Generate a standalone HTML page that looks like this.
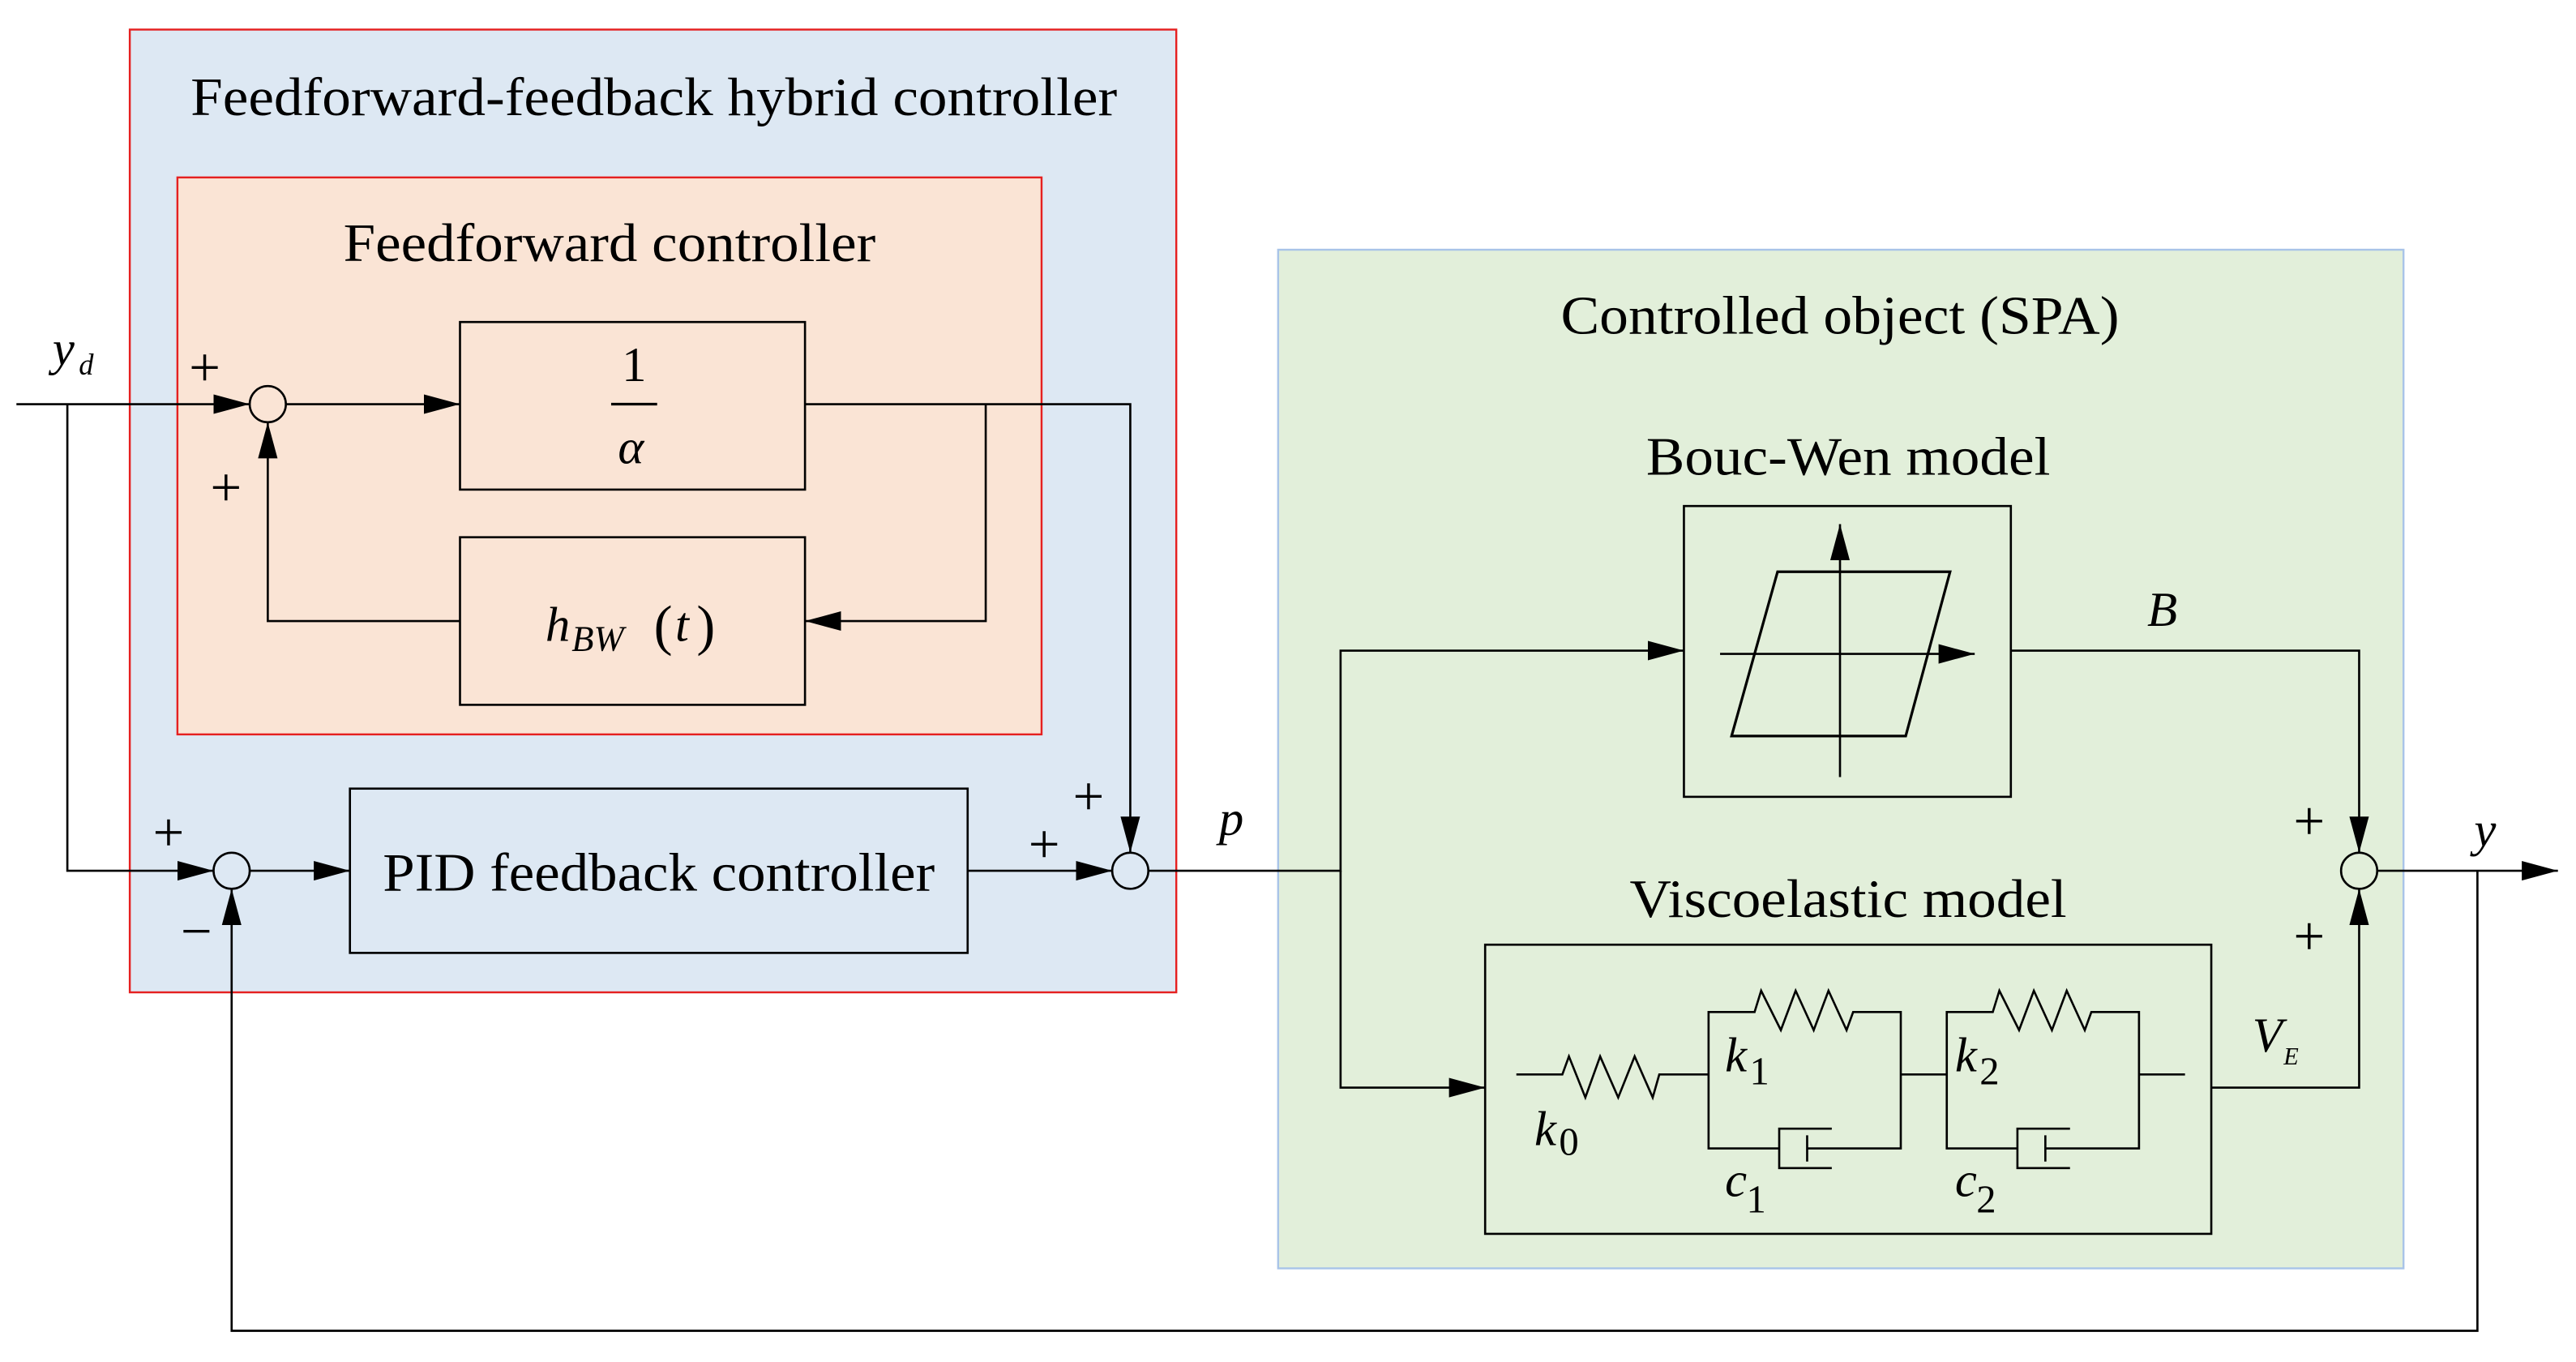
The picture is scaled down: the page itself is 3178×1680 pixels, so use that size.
<!DOCTYPE html>
<html><head><meta charset="utf-8"><style>html,body{margin:0;padding:0;background:#fff}svg{display:block}text{font-family:"Liberation Serif","DejaVu Serif",serif}</style></head><body>
<svg width="3178" height="1680" viewBox="0 0 1568 829" preserveAspectRatio="none" xmlns="http://www.w3.org/2000/svg">
<defs><marker id="a" viewBox="0 0 10 10" refX="10" refY="5" markerWidth="22" markerHeight="22" markerUnits="userSpaceOnUse" orient="auto"><path d="M0,2.3L10,5L0,7.7z" fill="#000"/></marker></defs>
<rect width="1568" height="829" fill="#fff"/>
<rect x="79" y="18" width="637" height="586" fill="#dde8f3" stroke="#e52020" stroke-width="1.2"/>
<rect x="108" y="108" width="526" height="339" fill="#fae4d5" stroke="#e52020" stroke-width="1.2"/>
<rect x="778" y="152" width="685" height="620" fill="#e2efda" stroke="#a9c4e8" stroke-width="1.2"/>
<g font-size="33" text-anchor="middle" fill="#000">
<text x="398" y="70" textLength="564" lengthAdjust="spacingAndGlyphs">Feedforward-feedback hybrid controller</text>
<text x="371" y="159" textLength="324" lengthAdjust="spacingAndGlyphs">Feedforward controller</text>
<text x="1120" y="203" textLength="340" lengthAdjust="spacingAndGlyphs">Controlled object (SPA)</text>
<text x="1125" y="289" textLength="246" lengthAdjust="spacingAndGlyphs">Bouc-Wen model</text>
<text x="1125" y="558" textLength="266" lengthAdjust="spacingAndGlyphs">Viscoelastic model</text>
<text x="401" y="542" textLength="336" lengthAdjust="spacingAndGlyphs">PID feedback controller</text>
</g>
<g fill="none" stroke="#000" stroke-width="1.3">
<rect x="280" y="196" width="210" height="102"/>
<rect x="280" y="327" width="210" height="102"/>
<rect x="213" y="480" width="376" height="100"/>
<rect x="1025" y="308" width="199" height="177"/>
<rect x="904" y="575" width="442" height="176"/>
<circle cx="163" cy="246" r="11"/>
<circle cx="141" cy="530" r="11"/>
<circle cx="688" cy="530" r="11"/>
<circle cx="1436" cy="530" r="11"/>
<path d="M10,246H152" marker-end="url(#a)"/>
<path d="M174,246H280" marker-end="url(#a)"/>
<path d="M490,246H688V519" marker-end="url(#a)"/>
<path d="M600,246V378H490" marker-end="url(#a)"/>
<path d="M280,378H163V257" marker-end="url(#a)"/>
<path d="M41,246V530H130" marker-end="url(#a)"/>
<path d="M152,530H213" marker-end="url(#a)"/>
<path d="M589,530H677" marker-end="url(#a)"/>
<path d="M699,530H816V396H1025" marker-end="url(#a)"/>
<path d="M816,530V662H904" marker-end="url(#a)"/>
<path d="M1224,396H1436V519" marker-end="url(#a)"/>
<path d="M1346,662H1436V541" marker-end="url(#a)"/>
<path d="M1447,530H1557" marker-end="url(#a)"/>
<path d="M1508,530V810H141V541" marker-end="url(#a)"/>
<path d="M1120,473V319" marker-end="url(#a)"/>
<path d="M1047,398H1202" marker-end="url(#a)"/>
<path d="M1082,348H1187L1160,448H1054Z" stroke-width="1.6"/>
<path d="M923,654H951L955,643L965,668L974,643L985,668L995,643L1006,668L1010,654H1040"/>
<path d="M1040,654V616H1068L1072,603L1084,627L1093,603L1104,627L1113,603L1124,627L1128,616H1157V699H1100M1083,699H1040V654M1115,687H1083V711H1115M1100,691V707M1157,654H1185"/>
<path d="M1185,654V616H1213L1217,603L1229,627L1238,603L1249,627L1258,603L1269,627L1273,616H1302V699H1245M1228,699H1185V654M1260,687H1228V711H1260M1245,691V707M1302,654H1330"/>
<path d="M372,246H400" stroke-width="1.6"/>
</g>
<g font-size="30" fill="#000">
<text x="386" y="232" text-anchor="middle">1</text>
<text x="384" y="282" text-anchor="middle" font-style="italic">α</text>
<text x="332" y="390" font-style="italic">h</text><text x="348" y="396" font-size="22" font-style="italic">BW</text><text x="398" y="392" font-size="34">(</text><text x="411" y="390" font-style="italic">t</text><text x="424" y="392" font-size="34">)</text>
<text x="32" y="222" font-style="italic">y</text><text x="48" y="228" font-size="18" font-style="italic">d</text>
<g font-size="34"><text x="115" y="235">+</text><text x="128" y="308">+</text>
<text x="93" y="518">+</text><text x="110" y="578">−</text>
<text x="626" y="525">+</text><text x="653" y="496">+</text>
<text x="1396" y="511">+</text><text x="1396" y="581">+</text></g>
<text x="742" y="508" font-style="italic">p</text>
<text x="1307" y="381" font-style="italic">B</text>
<text x="1506" y="515" font-style="italic">y</text>
<text x="1371" y="640" font-style="italic">V</text><text x="1390" y="648" font-size="15" font-style="italic">E</text>
<text x="934" y="697" font-style="italic">k</text><text x="949" y="703" font-size="24">0</text>
<text x="1050" y="652" font-style="italic">k</text><text x="1065" y="660" font-size="24">1</text>
<text x="1190" y="652" font-style="italic">k</text><text x="1205" y="660" font-size="24">2</text>
<text x="1050" y="728" font-style="italic">c</text><text x="1063" y="738" font-size="24">1</text>
<text x="1190" y="728" font-style="italic">c</text><text x="1203" y="738" font-size="24">2</text>
</g>
</svg>
</body></html>
